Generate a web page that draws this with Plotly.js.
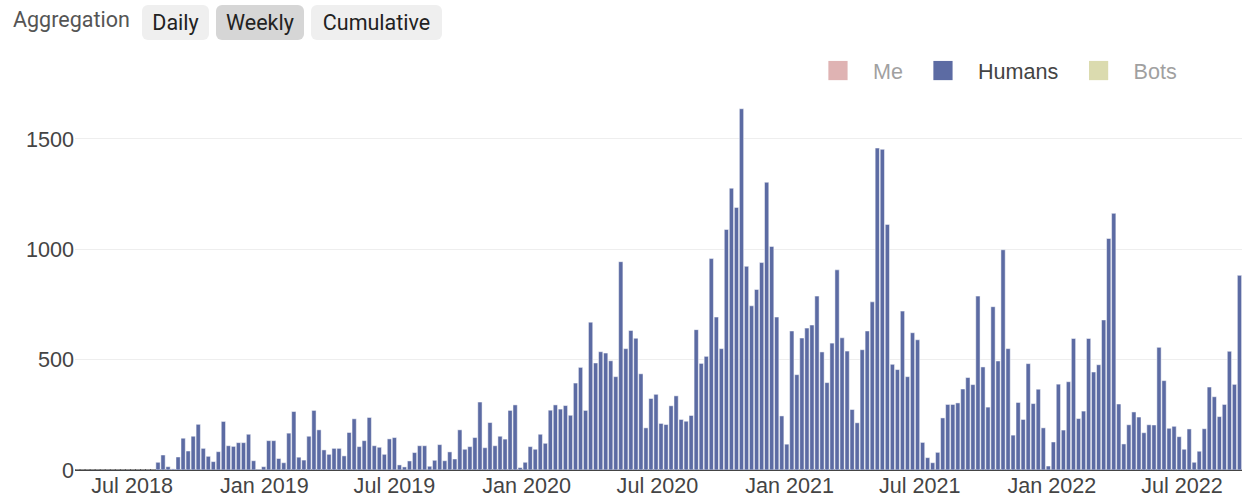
<!DOCTYPE html>
<html>
<head>
<meta charset="utf-8">
<script src="https://cdn.plot.ly/plotly-3.0.1.min.js"></script>
<style>
  html, body { margin:0; padding:0; background:#fff; width:1242px; height:498px; overflow:hidden; }
  #wrap { position:relative; width:1242px; height:498px; }
  #chart { position:absolute; left:0; top:0; width:1242px; height:498px; }
  #hdr { position:absolute; left:0; top:0; width:1242px; height:44px; z-index:5; font-family:Roboto, "Noto Sans", sans-serif; font-size:21.5px; }
  #hdr .lbl { position:absolute; left:13px; top:5px; height:30px; line-height:30px; color:#555; }
  #hdr .btn { position:absolute; top:5px; height:35px; line-height:35px; text-align:center; border-radius:6px; background:#efefef; color:#222; }
  #hdr .btn.sel { background:#d6d6d6; }
</style>
</head>
<body>
<div id="wrap">
  <div id="chart"></div>
  <div id="hdr">
    <span class="lbl">Aggregation</span>
    <span class="btn" style="left:142px;width:67px;">Daily</span>
    <span class="btn sel" style="left:216px;width:88px;">Weekly</span>
    <span class="btn" style="left:311px;width:131px;">Cumulative</span>
  </div>
</div>
<script>
// ---- data ----
const firstWeek = '2018-04-16';            // first weekly bin (Mondays)
const seriesNames = ['Me', 'Humans', 'Bots'];
const seriesColors = ['#c16969', '#5c6ba3', '#b9b961'];

// weekly counts for "Humans", one value per week starting at firstWeek
const humansLeadZeros = [0,0,0,0,0,0,0,0,0,0,0,0,0,0,0,0];
const humans2018 = [35,68,15,5,59,144,86,153,207,98,62,38,83,220,110,107,124,124,162,42,3];
const humans2019 = [15,133,133,52,33,167,265,58,45,153,270,182,91,71,98,98,64,170,232,106,133,238,110,103,71,141,
                    147,23,14,41,79,110,110,17,44,115,42,82,50,182,94,106,147,308,101,215,110,153,140,270,295,11];
const humans2020 = [35,106,94,162,121,271,295,276,292,248,394,465,270,670,485,536,530,495,423,944,550,632,597,436,191,324,
                    343,211,206,291,336,229,221,247,636,483,515,958,693,550,1090,1277,1190,1637,923,744,818,940,1304,1013,693,245];
const humans2021 = [117,630,432,598,643,657,788,535,396,575,907,599,539,274,214,545,630,762,1459,1453,1113,479,455,720,423,622,
                    590,125,56,33,80,236,297,297,304,367,419,387,788,467,285,740,494,998,550,158,306,229,482,301,366,191];
const humans2022 = [18,127,389,181,400,596,233,267,596,444,477,680,1049,1163,299,118,205,263,240,169,205,204,556,405,189,198,
                    151,94,186,35,85,187,376,332,242,297,538,388,882];
const humansWeekly = [].concat(humansLeadZeros, humans2018, humans2019, humans2020, humans2021, humans2022);

// hidden (legend-only) series: not visible in the picture
const meWeekly = [0];
const botsWeekly = [0];

const yTickVals = [0, 500, 1000, 1500];
const xTickDates = ['2018-07-01','2019-01-01','2019-07-01','2020-01-01','2020-07-01','2021-01-01','2021-07-01','2022-01-01','2022-07-01'];
const xTickLabels = ['Jul 2018','Jan 2019','Jul 2019','Jan 2020','Jul 2020','Jan 2021','Jul 2021','Jan 2022','Jul 2022'];

// ---- week axis ----
const t0 = Date.parse(firstWeek + 'T00:00:00Z');
const weeks = humansWeekly.map((_, i) => new Date(t0 + i * 7 * 86400000).toISOString().slice(0, 10));

const traces = [
  { type:'bar', name:seriesNames[0], x:weeks.slice(0, meWeekly.length), y:meWeekly, visible:'legendonly',
    marker:{ color:seriesColors[0] } },
  { type:'bar', name:seriesNames[1], x:weeks, y:humansWeekly,
    marker:{ color:seriesColors[1], line:{ color:'rgba(255,255,255,0.55)', width:0.9 } } },
  { type:'bar', name:seriesNames[2], x:weeks.slice(0, botsWeekly.length), y:botsWeekly, visible:'legendonly',
    marker:{ color:seriesColors[2] } }
];

const layout = {
  width:1242, height:498,
  margin:{ l:75, r:0, t:90, b:28, pad:0 },
  font:{ family:'"Liberation Sans", Arial, sans-serif', size:21.6, color:'#444' },
  paper_bgcolor:'rgba(0,0,0,0)', plot_bgcolor:'#fff',
  barmode:'overlay', bargap:0.15,
  showlegend:true,
  legend:{ orientation:'h', x:0.6238, xanchor:'left', y:1.05, yanchor:'middle', itemwidth:60,
           font:{ size:21.6, color:'#444' }, bgcolor:'rgba(0,0,0,0)' },
  xaxis:{ type:'date', range:['2018-04-12 12:00','2022-09-22 12:00'], tickmode:'array',
          tickvals:xTickDates, ticktext:xTickLabels, showgrid:false, zeroline:false, showline:false, ticks:'' },
  yaxis:{ range:[0, 1722], tickmode:'array', tickvals:yTickVals, ticktext:yTickVals.map(String),
          gridcolor:'#eee', gridwidth:1, zeroline:true, zerolinecolor:'#444', zerolinewidth:1.8, showline:false, ticks:'' }
};

Plotly.newPlot('chart', traces, layout, { displayModeBar:false, staticPlot:true }).then(function () {
  // enlarge the legend squares to the reference's size
  document.querySelectorAll('#chart .legend .legendpoints path').forEach(function (p) {
    const t = p.getAttribute('transform') || '';
    p.setAttribute('transform', t + ' scale(1.6)');
    p.style.strokeWidth = '0';
  });
});
</script>
</body>
</html>
